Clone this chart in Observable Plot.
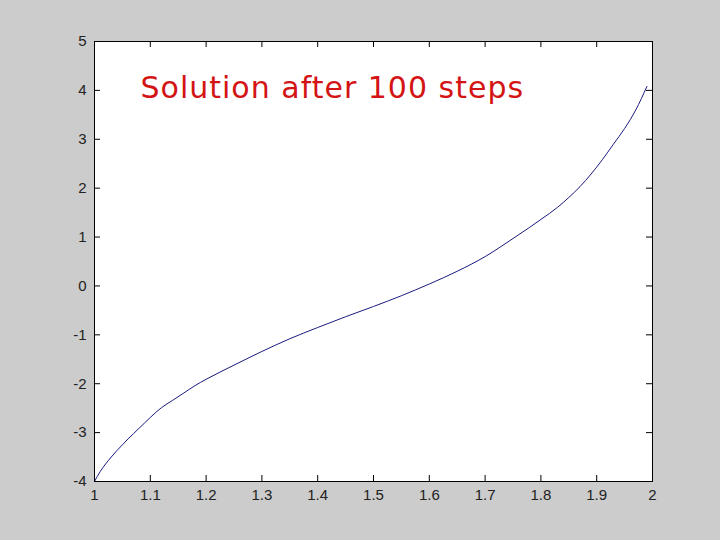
<!DOCTYPE html>
<html>
<head>
<meta charset="utf-8">
<script src="https://cdn.jsdelivr.net/npm/d3@7"></script>
<script src="https://cdn.jsdelivr.net/npm/@observablehq/plot@0.6"></script>
<style>
  html, body { margin: 0; padding: 0; background: #cccccc; }
  #chart { width: 720px; height: 540px; }
</style>
</head>
<body>
<div id="chart"></div>
<script>
const title = "Solution after 100 steps";
const xTicks = [1, 1.1, 1.2, 1.3, 1.4, 1.5, 1.6, 1.7, 1.8, 1.9, 2];
const yTicks = [-4, -3, -2, -1, 0, 1, 2, 3, 4, 5];
const xs = [1.00, 1.01, 1.02, 1.03, 1.04, 1.05, 1.06, 1.07, 1.08, 1.09, 1.10,
            1.12, 1.14, 1.16, 1.18, 1.20, 1.25, 1.30, 1.35, 1.40, 1.45, 1.50,
            1.55, 1.60, 1.65, 1.70, 1.75, 1.78, 1.80, 1.83, 1.85, 1.87, 1.89,
            1.91, 1.93, 1.95, 1.97, 1.99];
const ys = [-4.00, -3.80, -3.64, -3.50, -3.37, -3.25, -3.13, -3.02, -2.91, -2.80, -2.69,
            -2.49, -2.34, -2.19, -2.04, -1.91, -1.62, -1.34, -1.08, -0.85, -0.63, -0.42,
            -0.20, 0.04, 0.30, 0.60, 0.97, 1.20, 1.36, 1.61, 1.81, 2.03, 2.29,
            2.58, 2.90, 3.22, 3.60, 4.08];

const data = xs.map((x, i) => ({x, y: ys[i]}));
const fmtX = d => String(+(+d).toFixed(1));
const fmtY = d => String(d);

const chart = Plot.plot({
  width: 720,
  height: 540,
  marginLeft: 94,
  marginRight: 68,
  marginTop: 41,
  marginBottom: 59,
  style: {background: "#cccccc", fontFamily: "'Liberation Sans', Arial, sans-serif", fontSize: "15px", color: "#222"},
  x: {domain: [1, 2]},
  y: {domain: [-4, 5]},
  marks: [
    Plot.frame({fill: "white"}),
    Plot.ruleX(xTicks, {insetTop: 434, stroke: "black"}),
    Plot.ruleX(xTicks, {insetBottom: 434, stroke: "black"}),
    Plot.ruleY(yTicks, {insetRight: 552, stroke: "black"}),
    Plot.ruleY(yTicks, {insetLeft: 552, stroke: "black"}),
    Plot.axisX(xTicks, {anchor: "bottom", tickSize: 0, tickPadding: 8, tickFormat: fmtX, label: null, fill: "#222"}),
    Plot.axisY(yTicks, {anchor: "left", tickSize: 0, tickPadding: 8, tickFormat: fmtY, label: null, fill: "#222"}),
    Plot.line(data, {x: "x", y: "y", stroke: "#1a1a80", strokeWidth: 1, curve: "monotone-x"}),
    Plot.text([title], {frameAnchor: "top-left", dx: 46, dy: 47, textAnchor: "start", lineAnchor: "middle",
      fill: "#d41414", fontSize: 30, fontFamily: "'DejaVu Sans', Verdana, sans-serif", className: "ttl"}),
    Plot.frame({stroke: "black"})
  ]
});
d3.select(chart).selectAll(".ttl text").style("letter-spacing", "1px");
document.getElementById("chart").appendChild(chart);
</script>
</body>
</html>
